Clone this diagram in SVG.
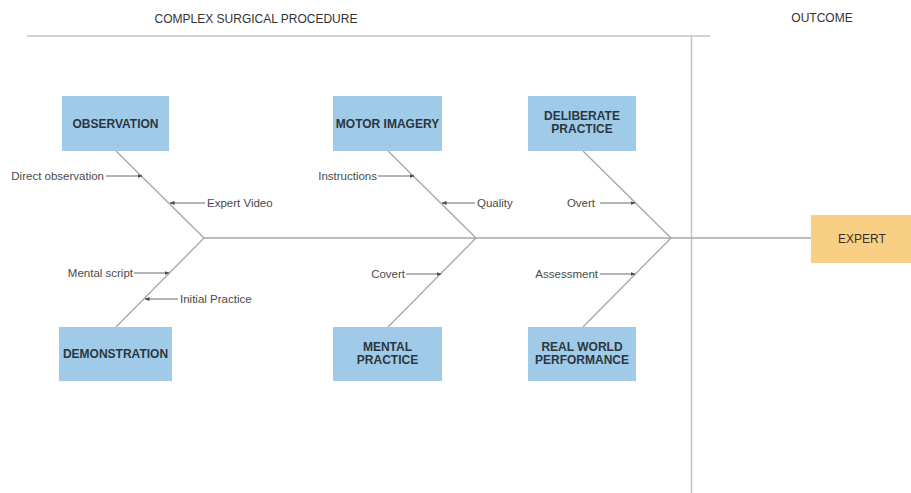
<svg xmlns="http://www.w3.org/2000/svg" width="911" height="493" viewBox="0 0 911 493">
  <style>
    .bg { fill: #ffffff; }
    .rule { stroke: #c4c4c4; stroke-width: 1.5; fill: none; }
    .bone { stroke: #a6a6a6; stroke-width: 1.3; fill: none; }
    .cue { stroke: #6b6b6b; stroke-width: 1; fill: none; marker-end: url(#tip); }
    .cause rect { fill: #9fcbe9; }
    .result rect { fill: #f8cf83; }
    .head { font-family: "Liberation Sans", Arial, sans-serif; font-size: 12px; fill: #333333; text-anchor: middle; }
    .title { font-family: "Liberation Sans", Arial, sans-serif; font-size: 12px; font-weight: bold; fill: #2c3640; text-anchor: middle; }
    .label { font-family: "Liberation Sans", Arial, sans-serif; font-size: 11.5px; fill: #4a4a4a; }
  </style>
  <defs>
    <marker id="tip" viewBox="0 0 10 10" refX="9" refY="5" markerWidth="5" markerHeight="5" orient="auto">
      <path d="M0,1 L10,5 L0,9 z" fill="#4a4a4a"/>
    </marker>
  </defs>

  <rect class="bg" x="0" y="0" width="911" height="493"/>

  <!-- section headings -->
  <g id="headings">
    <text class="head" x="256" y="23">COMPLEX SURGICAL PROCEDURE</text>
    <text class="head" x="822" y="22">OUTCOME</text>
    <line class="rule" x1="27" y1="36" x2="710" y2="36"/>
    <line class="rule" x1="691.5" y1="36" x2="691.5" y2="493"/>
  </g>

  <!-- spine, bones and cue arrows -->
  <g id="connectors">
    <line class="bone" x1="204" y1="238" x2="811" y2="238"/>

    <line class="bone" x1="116" y1="151" x2="204" y2="238"/>
    <line class="bone" x1="116" y1="327" x2="204" y2="238"/>
    <line class="bone" x1="388" y1="151" x2="476" y2="238"/>
    <line class="bone" x1="388" y1="327" x2="476" y2="238"/>
    <line class="bone" x1="583" y1="151" x2="671" y2="238"/>
    <line class="bone" x1="583" y1="327" x2="671" y2="238"/>

    <line class="cue" x1="106" y1="176" x2="142" y2="176"/>
    <line class="cue" x1="205" y1="203" x2="170" y2="203"/>
    <line class="cue" x1="134" y1="273" x2="169" y2="273"/>
    <line class="cue" x1="178" y1="299" x2="145" y2="299"/>

    <line class="cue" x1="378" y1="176" x2="414" y2="176"/>
    <line class="cue" x1="475" y1="203" x2="442" y2="203"/>
    <line class="cue" x1="406" y1="274" x2="441" y2="274"/>

    <line class="cue" x1="600" y1="203" x2="635" y2="203"/>
    <line class="cue" x1="600" y1="274" x2="635" y2="274"/>
  </g>

  <!-- cue labels -->
  <g id="cue-labels">
    <text class="label" x="104" y="180" text-anchor="end">Direct observation</text>
    <text class="label" x="207" y="207">Expert Video</text>
    <text class="label" x="133" y="277" text-anchor="end">Mental script</text>
    <text class="label" x="180" y="303">Initial Practice</text>
    <text class="label" x="377" y="180" text-anchor="end">Instructions</text>
    <text class="label" x="477" y="207">Quality</text>
    <text class="label" x="405" y="278" text-anchor="end">Covert</text>
    <text class="label" x="595" y="207" text-anchor="end">Overt</text>
    <text class="label" x="598" y="278" text-anchor="end">Assessment</text>
  </g>

  <g id="observation" class="cause">
    <rect x="62" y="96" width="107" height="55"/>
    <text class="title" x="115.5" y="127.5">OBSERVATION</text>
  </g>

  <g id="demonstration" class="cause">
    <rect x="59" y="327" width="113" height="54"/>
    <text class="title" x="115.5" y="358">DEMONSTRATION</text>
  </g>

  <g id="motor-imagery" class="cause">
    <rect x="333" y="96" width="109" height="55"/>
    <text class="title" x="387.5" y="127.5">MOTOR IMAGERY</text>
  </g>

  <g id="mental-practice" class="cause">
    <rect x="333" y="327" width="109" height="54"/>
    <text class="title" x="387.5" y="351">MENTAL</text>
    <text class="title" x="387.5" y="364">PRACTICE</text>
  </g>

  <g id="deliberate-practice" class="cause">
    <rect x="528" y="96" width="108" height="55"/>
    <text class="title" x="582" y="120">DELIBERATE</text>
    <text class="title" x="582" y="133">PRACTICE</text>
  </g>

  <g id="real-world-performance" class="cause">
    <rect x="528" y="327" width="108" height="54"/>
    <text class="title" x="582" y="351">REAL WORLD</text>
    <text class="title" x="582" y="364">PERFORMANCE</text>
  </g>

  <g id="expert" class="result">
    <rect x="811" y="215" width="100" height="48"/>
    <text class="title" x="862" y="243" style="font-weight:normal;fill:#3a3226">EXPERT</text>
  </g>
</svg>
